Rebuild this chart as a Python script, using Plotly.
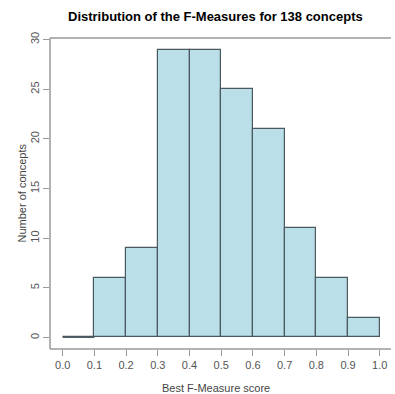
import plotly.graph_objects as go

bin_left = [0.0, 0.1, 0.2, 0.3, 0.4, 0.5, 0.6, 0.7, 0.8, 0.9]
counts = [0, 6, 9, 29, 29, 25, 21, 11, 6, 2]
x_ticks = [0.0, 0.1, 0.2, 0.3, 0.4, 0.5, 0.6, 0.7, 0.8, 0.9, 1.0]
x_tick_labels = ["0.0", "0.1", "0.2", "0.3", "0.4", "0.5", "0.6", "0.7", "0.8", "0.9", "1.0"]
y_ticks = [0, 5, 10, 15, 20, 25, 30]
bin_width = 0.1

FONT = "Liberation Sans, Arial, sans-serif"
AX = "#999999"
TXT = "#444444"

fig = go.Figure()
fig.add_trace(go.Bar(
    x=[b + bin_width / 2 for b in bin_left],
    y=counts,
    width=[bin_width] * len(bin_left),
    marker=dict(color="#badfe9", line=dict(color="#4a5a60", width=1.2)),
    hoverinfo="x+y",
))
fig.add_trace(go.Scatter(
    x=[bin_left[0], bin_left[1]], y=[0, 0], mode="lines",
    line=dict(color="#4a5a60", width=1), hoverinfo="skip",
))

fig.update_layout(
    width=395, height=394,
    margin=dict(l=50, r=8, t=38, b=45),
    paper_bgcolor="white", plot_bgcolor="white",
    showlegend=False,
    font=dict(family=FONT, size=11, color=TXT),
    bargap=0,
    xaxis=dict(
        range=[-0.04, 1.004], tickvals=x_ticks, ticktext=x_tick_labels,
        ticks="outside", ticklen=6, tickcolor=AX, tickwidth=1,
        showline=False,
        showgrid=False, zeroline=False, fixedrange=True,
        tickfont=dict(size=11, color="#555555"),
    ),
    yaxis=dict(
        range=[-1.16, 30.16], tickvals=y_ticks,
        ticks="outside", ticklen=6, tickcolor=AX, tickwidth=1,
        showline=False,
        showgrid=False, zeroline=False, tickangle=-90, fixedrange=True,
        tickfont=dict(size=11, color="#555555"),
    ),
    shapes=[
        dict(type="line", xref="paper", yref="paper", x0=0, x1=1.03, y0=1, y1=1,
             line=dict(color=AX, width=1.5)),
        dict(type="line", xref="paper", yref="paper", x0=0, x1=1.03, y0=0, y1=0,
             line=dict(color=AX, width=1.5)),
        dict(type="line", xref="paper", yref="paper", x0=0, x1=0, y0=0, y1=1,
             line=dict(color=AX, width=1.5)),
    ],
    annotations=[
        dict(text="<b>Distribution of the F-Measures for 138 concepts</b>",
             xref="paper", yref="paper", x=0.5, y=1, yshift=22,
             xanchor="center", yanchor="middle", showarrow=False,
             font=dict(size=13, color="#000000", family=FONT)),
        dict(text="Best F-Measure score", xref="paper", yref="paper",
             x=0.5, y=0, yshift=-39, xanchor="center", yanchor="middle",
             showarrow=False, font=dict(size=11, color=TXT, family=FONT)),
        dict(text="Number of concepts", xref="paper", yref="paper",
             x=0, y=0.5, xshift=-29, xanchor="center", yanchor="middle",
             textangle=-90, showarrow=False,
             font=dict(size=11, color=TXT, family=FONT)),
    ],
)

fig.write_html("out.html")
